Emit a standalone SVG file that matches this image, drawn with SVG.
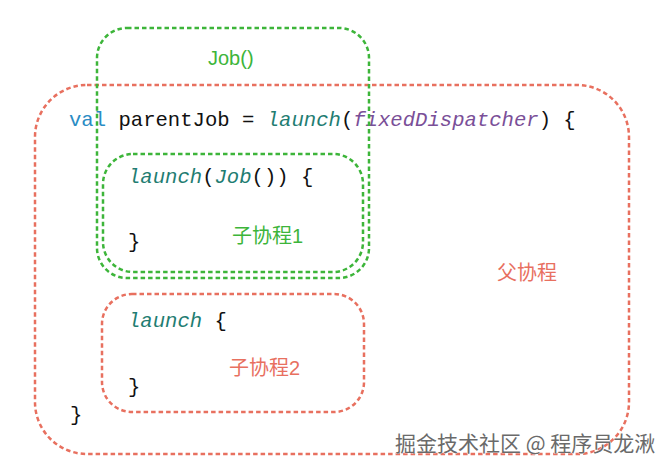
<svg xmlns="http://www.w3.org/2000/svg" width="672" height="473" viewBox="0 0 672 473">
<style>
.g{fill:none;stroke:#3db53a;stroke-width:2.5;stroke-dasharray:4.5 3}
.r{fill:none;stroke:#e8705f;stroke-width:2.5;stroke-dasharray:4.5 3}
.code{font-family:"Liberation Mono","Courier New",monospace;font-size:20.6px;fill:#111}
.kw{fill:#2a8cc4}
.fn{fill:#1f7d72;font-style:italic}
.pu{fill:#7a4f98;font-style:italic}
.lbl{font-family:"Liberation Sans","Noto Sans CJK SC",sans-serif;font-size:20px}
</style>
<rect width="672" height="473" fill="#fff"/>
<g id="parent">
<rect class="r" x="35" y="85" width="594" height="369" rx="52" ry="52"/>
<text class="code" x="69" y="126"><tspan class="kw">val</tspan> parentJob = <tspan class="fn">launch</tspan>(<tspan class="pu">fixedDispatcher</tspan>) {</text>
<text class="code" x="70" y="421">}</text>
<text class="lbl" x="497" y="280" fill="#e8705f" font-size="21">父协程</text>
</g>
<g id="job">
<rect class="g" x="97" y="28" width="272" height="250" rx="30" ry="30"/>
<text class="lbl" x="208" y="65" fill="#3db53a" font-size="19">Job()</text>
</g>
<g id="child1">
<rect class="g" x="103" y="154" width="260" height="118" rx="30" ry="30"/>
<text class="code" x="128" y="183"><tspan class="fn">launch</tspan>(<tspan class="fn">Job</tspan>()) {</text>
<text class="code" x="128" y="248">}</text>
<text class="lbl" x="232" y="243" fill="#3db53a">子协程1</text>
</g>
<g id="child2">
<rect class="r" x="102" y="294" width="262" height="118" rx="30" ry="30"/>
<text class="code" x="128" y="327"><tspan class="fn">launch</tspan> {</text>
<text class="code" x="128" y="393">}</text>
<text class="lbl" x="229" y="375" fill="#e8705f">子协程2</text>
</g>
<g id="connectors"></g>
<text x="395" y="451" font-family="'Noto Sans CJK SC',sans-serif" font-size="21" fill="#6a6a6a" stroke="#ffffff" stroke-width="0.6" paint-order="stroke">掘金技术社区 @ 程序员龙湫</text>
</svg>
